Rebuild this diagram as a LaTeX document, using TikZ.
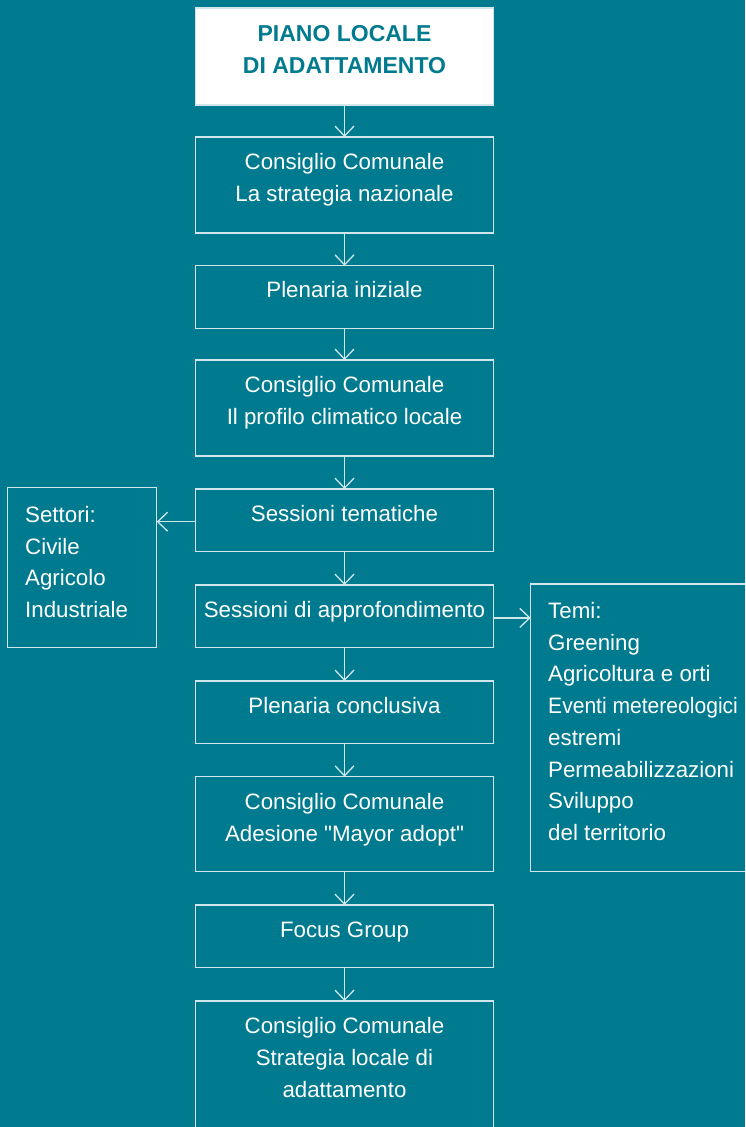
\documentclass[tikz,border=0pt]{standalone}
\usepackage{fontspec}
\setmainfont{Liberation Sans}[Ligatures=TeXOff]
\usetikzlibrary{arrows.meta}
\definecolor{bg}{HTML}{007A8F}
\definecolor{lc}{HTML}{CFE7EB}
\tikzset{
  box/.style={rectangle, draw=lc, line width=1.3pt, minimum width=298pt, inner sep=0pt, outer sep=0pt},
  onebox/.style={box, minimum height=62.5pt},
  twobox/.style={box, minimum height=96pt},
  txt/.style={text=white, font=\fontsize{22.3}{32}\selectfont, align=center, anchor=north, inner sep=0pt},
  sidetxt/.style={text=white, font=\fontsize{22.3}{31.75}\selectfont, align=left, anchor=north west, inner sep=0pt},
  arr/.style={draw=lc, line width=1.3pt, -{Straight Barb[length=10pt,width=19pt]}},
}
\begin{document}
\begin{tikzpicture}[x=1pt,y=-1pt]
\clip (0,0) rectangle (745,1127);
\fill[bg] (0,0) rectangle (745,1127);

% boxes
\node[box, fill=white, minimum height=97pt] (b0) at (344.5,56.5) {};
\node[twobox] (b1) at (344.5,185) {};
\node[onebox] (b2) at (344.5,297) {};
\node[twobox] (b3) at (344.5,408) {};
\node[onebox] (b4) at (344.5,520.3) {};
\node[onebox] (b5) at (344.5,616.3) {};
\node[onebox] (b6) at (344.5,712.2) {};
\node[box, minimum height=95pt] (b7) at (344.5,824.2) {};
\node[onebox] (b8) at (344.5,936.3) {};
\node[box, minimum height=160pt] (b9) at (344.5,1081) {};

\node[rectangle, draw=lc, line width=1.3pt, minimum width=149.4pt, minimum height=160.4pt, inner sep=0pt, outer sep=0pt] (sl) at (82,567.5) {};
\node[rectangle, draw=lc, line width=1.3pt, minimum width=240pt, minimum height=287.7pt, inner sep=0pt, outer sep=0pt] (sr) at (650.7,727.85) {};

% texts
\node[txt, text=bg, font=\fontsize{23}{31.6}\selectfont\bfseries] (t0) at (344.5,19.3) {\strut PIANO LOCALE\\DI ADATTAMENTO};
\node[txt] (t1) at (344.5,146.9) {\strut Consiglio Comunale\\La strategia nazionale};
\node[txt] (t2) at (344.5,275) {\strut Plenaria iniziale};
\node[txt] (t3) at (344.5,370) {\strut Consiglio Comunale\\Il profilo climatico locale};
\node[txt] (t4) at (344.5,499) {\strut Sessioni tematiche};
\node[txt] (t5) at (344.5,595) {\strut Sessioni di approfondimento};
\node[txt] (t6) at (344.5,690.8) {\strut Plenaria conclusiva};
\node[txt] (t7) at (344.5,786.8) {\strut Consiglio Comunale\\Adesione "Mayor adopt"};
\node[txt] (t8) at (344.5,915.3) {\strut Focus Group};
\node[txt] (t9) at (344.5,1011) {\strut Consiglio Comunale\\Strategia locale di\\adattamento};

\node[sidetxt] (tl) at (25,499.9) {\strut Settori:\\Civile\\Agricolo\\Industriale};
\node[sidetxt] (tr) at (548,595.9) {\strut Temi:\\Greening\\Agricoltura e orti\\\scalebox{0.945}[1]{Eventi metereologici}\\estremi\\Permeabilizzazioni\\Sviluppo\\del territorio};

% connectors
\draw[arr] (b0.south) -- (b1.north);
\draw[arr] (b1.south) -- (b2.north);
\draw[arr] (b2.south) -- (b3.north);
\draw[arr] (b3.south) -- (b4.north);
\draw[arr] (b4.south) -- (b5.north);
\draw[arr] (b5.south) -- (b6.north);
\draw[arr] (b6.south) -- (b7.north);
\draw[arr] (b7.south) -- (b8.north);
\draw[arr] (b8.south) -- (b9.north);
\draw[arr] ([yshift=-1.4pt]b4.west) -- ([yshift=-1.4pt]b4.west -| sl.east);
\draw[arr] ([yshift=-1.6pt]b5.east) -- ([yshift=-1.6pt]b5.east -| sr.west);
\end{tikzpicture}
\end{document}
